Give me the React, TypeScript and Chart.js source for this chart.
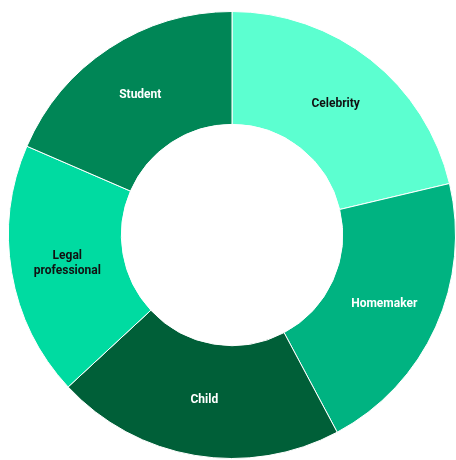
import React, { useEffect, useRef } from "react";
import { Chart, registerables } from "chart.js";

Chart.register(...registerables);

const categories = ["Celebrity", "Homemaker", "Child", "Legal professional", "Student"];
const values = [21.3, 20.9, 20.9, 18.4, 18.5];
const colors = ["#5CFFD0", "#00B381", "#005F38", "#00DBA1", "#008656"];
const labelColors = ["#111111", "#ffffff", "#ffffff", "#111111", "#ffffff"];
const labelLines = [["Celebrity"], ["Homemaker"], ["Child"], ["Legal", "professional"], ["Student"]];

const labelPlugin = {
  id: "sliceLabels",
  afterDatasetsDraw(chart: any) {
    const ctx = chart.ctx;
    const meta = chart.getDatasetMeta(0);
    ctx.save();
    ctx.font = "bold 12px Roboto, 'Noto Sans', sans-serif";
    ctx.textAlign = "center";
    ctx.textBaseline = "middle";
    meta.data.forEach((arc: any, i: number) => {
      const p = arc.getCenterPoint();
      const lines = labelLines[i];
      const lh = 15;
      const y0 = p.y - ((lines.length - 1) * lh) / 2;
      ctx.fillStyle = labelColors[i];
      lines.forEach((t: string, j: number) => ctx.fillText(t, p.x, y0 + j * lh));
    });
    ctx.restore();
  },
};

export default function App() {
  const ref = useRef<HTMLCanvasElement | null>(null);
  useEffect(() => {
    if (!ref.current) return;
    const chart = new Chart(ref.current, {
      type: "doughnut",
      data: {
        labels: categories,
        datasets: [
          {
            data: values,
            backgroundColor: colors,
            borderColor: "#ffffff",
            borderWidth: 1,
            hoverOffset: 0,
          },
        ],
      },
      options: {
        animation: false,
        responsive: false,
        cutout: "49.5%",
        layout: { padding: { left: 8, top: 10, right: -5, bottom: -2 } },
        plugins: { legend: { display: false }, tooltip: { enabled: false } },
      },
      plugins: [labelPlugin],
    });
    return () => chart.destroy();
  }, []);
  return (
    <div style={{ position: "absolute", left: 0, top: 0, width: 456, height: 460, overflow: "hidden" }}>
      <canvas ref={ref} width={456} height={460} style={{ display: "block" }} />
    </div>
  );
}
